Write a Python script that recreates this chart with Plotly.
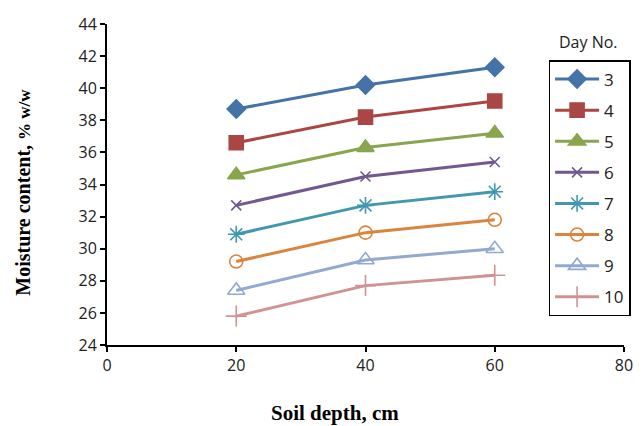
import plotly.graph_objects as go

depth = [20, 40, 60]
days = ["3", "4", "5", "6", "7", "8", "9", "10"]
day3 = [38.7, 40.2, 41.3]
day4 = [36.6, 38.2, 39.2]
day5 = [34.6, 36.3, 37.2]
day6 = [32.7, 34.5, 35.4]
day7 = [30.9, 32.7, 33.55]
day8 = [29.2, 31.0, 31.8]
day9 = [27.4, 29.3, 30.0]
day10 = [25.8, 27.7, 28.35]
series = [day3, day4, day5, day6, day7, day8, day9, day10]

colors = ["#4572A7", "#AA4643", "#89A54E", "#71588F", "#4198AF", "#DB843D", "#93A9CF", "#D19392"]
symbols = ["diamond", "square", "triangle-up", "x-thin-open", "asterisk-open",
           "circle-open", "triangle-up-open", "cross-thin-open"]
sizes = [14, 14, 15, 10, 14, 13, 15, 15]

fig = go.Figure()
for i, (name, vals) in enumerate(zip(days, series)):
    fig.add_trace(go.Scatter(
        x=depth, y=vals, name=name, mode="lines+markers",
        legendgroup=name,
        line=dict(color=colors[i], width=3),
        marker=dict(symbol=symbols[i], size=sizes[i], color=colors[i],
                    line=dict(color=colors[i], width=1.6)),
    ))

axis_common = dict(showgrid=False, zeroline=False, showline=True, linecolor="black",
                   linewidth=2, ticks="outside", tickcolor="black", tickwidth=2, ticklen=5,
                   tickfont=dict(family="Open Sans, Liberation Sans, sans-serif", size=16, color="#222"))

# page body has an 8px margin; compensate so the plot sits where the reference has it
OFF = 8
fig.update_layout(
    width=643 - OFF, height=426 - OFF,
    margin=dict(l=107 - OFF, r=15, t=24 - OFF, b=81),
    paper_bgcolor="white", plot_bgcolor="white",
    xaxis=dict(range=[0, 80], tickvals=[0, 20, 40, 60, 80], automargin=False, **axis_common),
    yaxis=dict(range=[24, 44], tickvals=list(range(24, 45, 2)), automargin=False, **axis_common),
    showlegend=True,
    legend=dict(x=(552 - 107) / 521, y=(345 - 60) / 321, xanchor="left", yanchor="top",
                bordercolor="black", borderwidth=1.5, bgcolor="white",
                font=dict(family="Open Sans, Liberation Sans, sans-serif", size=17, color="#222"),
                tracegroupgap=6, itemwidth=44),
)
fig.add_annotation(text="Day No.", xref="paper", yref="paper",
                   x=(592 - 107) / 521, y=(345 - 42) / 321,
                   xanchor="center", yanchor="middle", showarrow=False,
                   font=dict(family="Open Sans, Liberation Sans, sans-serif", size=16, color="#222"))
fig.add_annotation(text="<b>Soil depth, cm</b>", xref="paper", yref="paper",
                   x=(337 - 107) / 521, y=-(413 - 345) / 321,
                   xanchor="center", yanchor="middle", showarrow=False,
                   font=dict(family="Liberation Serif, serif", size=21, color="black"))
fig.add_annotation(text="<b>Moisture content, <span style='font-size:17px'>% w/w</span></b>",
                   xref="paper", yref="paper",
                   x=-(107 - 22) / 521, y=(345 - 192) / 321, textangle=-90,
                   xanchor="center", yanchor="middle", showarrow=False,
                   font=dict(family="Liberation Serif, serif", size=20, color="black"))

fig.write_html("out.html")
